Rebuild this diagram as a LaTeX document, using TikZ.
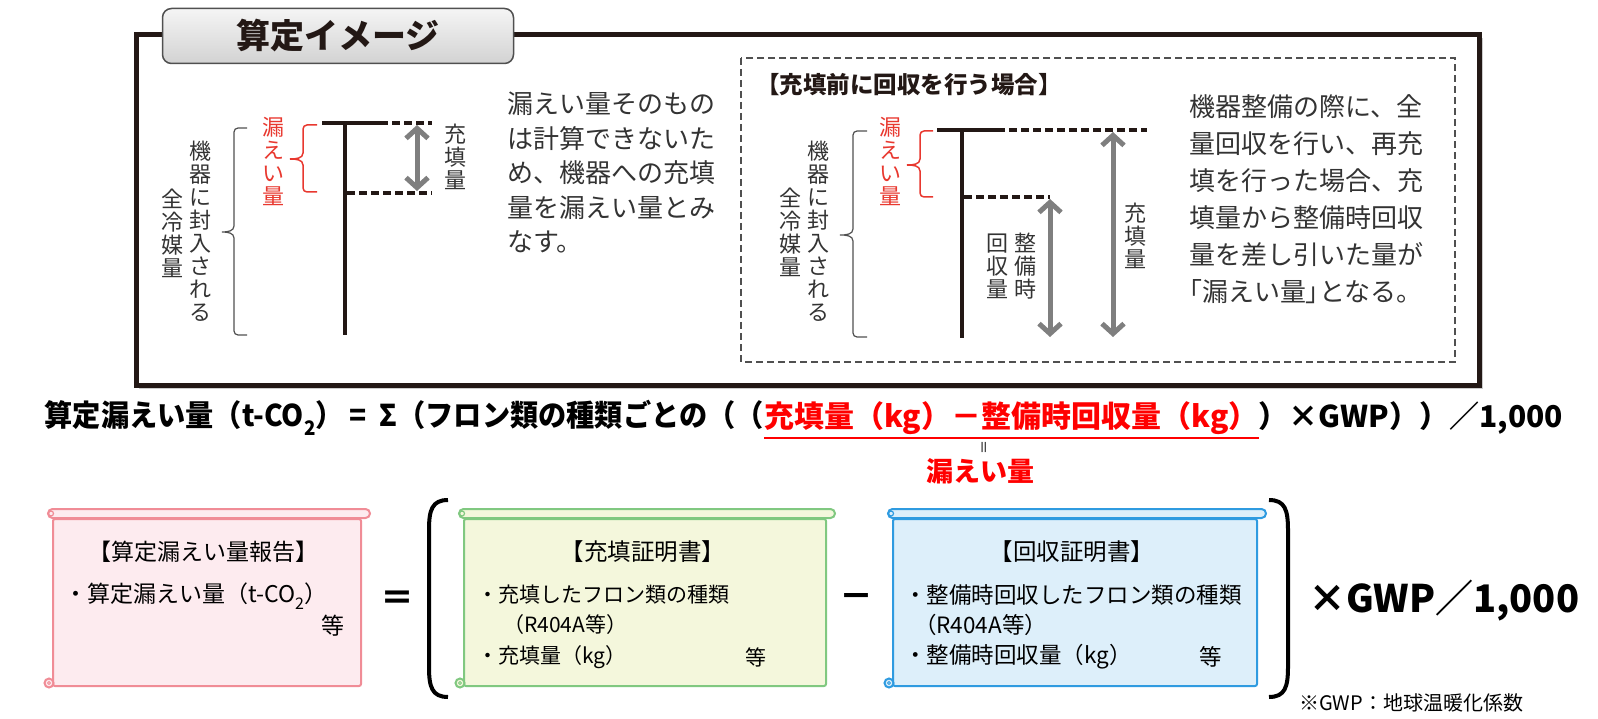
\documentclass[tikz,border=0pt]{standalone}
\usepackage{fontspec}
\setmainfont{Noto Sans CJK JP}
\usetikzlibrary{arrows.meta,positioning,calc}

\definecolor{ink}{HTML}{231815}
\definecolor{txtgray}{HTML}{333333}
\definecolor{arrgray}{HTML}{7F7F7F}
\definecolor{framegray}{HTML}{505050}
\definecolor{leakred}{HTML}{E8382F}
\definecolor{formred}{HTML}{FF0000}
\definecolor{pinkfill}{HTML}{FDEBEF}
\definecolor{pinkline}{HTML}{F08C96}
\definecolor{greenfill}{HTML}{F4F7DC}
\definecolor{greenline}{HTML}{80C880}
\definecolor{bluefill}{HTML}{DDEFFA}
\definecolor{blueline}{HTML}{2F9BE0}

\newcommand{\fs}[2]{\fontsize{#1}{#2}\selectfont}
\newcommand{\lowtwo}[1]{\raisebox{-0.3em}{\fs{#1}{#1}2}}
\newcommand{\halfkak}[1]{{\addfontfeature{RawFeature=+palt}#1}}
% bracket with a small tip: style, x end, x line, x tip, y top, y tip, y bottom
\newcommand{\sidebrace}[7]{%
\draw[#1] (#2,#5) -- (#3+4,#5) to[out=180,in=90] (#3,#5+4) -- (#3,#6-6) to[out=-90,in=0] (#4,#6)
  to[out=0,in=90] (#3,#6+6) -- (#3,#7-4) to[out=-90,in=180] (#3+4,#7) -- (#2,#7);}
% scroll ends of a certificate
\newcommand{\scrollends}[2]{%
\draw[#2line, fill=#2fill, line width=2pt, rounded corners=4.5pt] ($(#1.north west)+(-4,-9)$) rectangle ($(#1.north east)+(8,0)$);
\draw[#2line, line width=1.2pt] ($(#1.north west)+(-1,-4.5)$) circle (2.5pt);
\draw[#2line, fill=#2fill, line width=2pt] ($(#1.south west)+(-3,-4)$) circle (4.5pt);
\draw[#2line, line width=1pt] ($(#1.south west)+(-3,-4)$) circle (1.5pt);
}

\tikzset{
  frame/.style={ink, line width=5pt},
  tab/.style={draw=framegray, line width=1.5pt, rounded corners=9pt, top color=gray!8, bottom color=gray!35,
    minimum width=351pt, minimum height=55pt, inner sep=0pt, text=ink, font=\bfseries\fs{34}{34}},
  level/.style={ink, line width=3.5pt},
  dashlevel/.style={ink, line width=3.5pt, dash pattern=on 8pt off 4pt},
  amount/.style={arrgray, line width=5pt,
    {Straight Barb[length=10pt,width=22pt]}-{Straight Barb[length=10pt,width=22pt]}},
  tate/.style={align=center, inner sep=0pt, text=txtgray, font=\fs{22}{23}},
  para/.style={align=left, inner sep=0pt, anchor=north west, text=txtgray, font=\fs{26}{34.5}},
  leakbrace/.style={leakred, line width=1.5pt},
  allbrace/.style={framegray, line width=1.2pt},
  formula/.style={inner sep=0pt, font=\bfseries\fs{30}{30}},
  scrollbody/.style={draw=#1line, fill=#1fill, line width=2pt, rounded corners=2pt, inner sep=0pt, anchor=north west},
  boxtext/.style={inner sep=0pt, font=\fs{21}{21}},
  paren/.style={black, line width=4pt},
}

\begin{document}
\begin{tikzpicture}[x=1pt,y=-1pt]
\useasboundingbox (0,0) rectangle (1598,719);
% frame with title tab
\draw[gray!40, line width=2pt] (139,388) -- (1482,388) -- (1482,38);
\draw[frame] (136,35) rectangle (1479,385);
\node[tab] (tab) at (338,36) {算定イメージ};

% left picture:
\draw[level] (322,123) -- (380,123);
\draw[dashlevel] (380,123) -- (432,123);
\draw[level] (345,123) -- (345,335);
\draw[dashlevel] (347,193) -- (432,193);
\draw[amount] (417,125) -- (417,191);
\node[tate] (lfill) at (455,157) {充\\填\\量};
\sidebrace{leakbrace}{317}{303}{290}{125}{159}{192}
\node[tate, text=leakred] (lleak) at (273,161) {漏\\え\\い\\量};
\sidebrace{allbrace}{247}{234}{222}{128}{232}{335}
\node[tate] (lcharge) at (200,231) {機\\器\\に\\封\\入\\さ\\れ\\る};
\node[tate] (ltotal) at (172,233) {全\\冷\\媒\\量};
\node[para] (lnote) at (507,92) {漏えい量そのもの\\は計算できないた\\め、機器への充填\\量を漏えい量とみ\\なす。};

% right picture:
\draw[framegray, line width=1.3pt, dash pattern=on 7pt off 4pt] (741,58) rectangle (1455,362);
\node[inner sep=0pt, anchor=west, text=ink, font=\bfseries\fs{23.5}{23.5}] (rtitle) at (756,85) {【充填前に回収を行う場合】};
\draw[level] (937,130) -- (997,130);
\draw[dashlevel] (997,130) -- (1147,130);
\draw[level] (962,130) -- (962,338);
\draw[dashlevel] (964,197) -- (1050,197);
\draw[amount] (1050,199) -- (1050,337);
\draw[amount] (1113,132) -- (1113,337);
\node[tate] (rfill) at (1135,236) {充\\填\\量};
\node[tate] (rrec1) at (1025,266) {整\\備\\時};
\node[tate] (rrec2) at (997,266) {回\\収\\量};
\sidebrace{leakbrace}{933}{920}{907}{131}{165}{197}
\node[tate, text=leakred] (rleak) at (890,161) {漏\\え\\い\\量};
\sidebrace{allbrace}{867}{853}{840}{131}{235}{337}
\node[tate] (rcharge) at (818,231) {機\\器\\に\\封\\入\\さ\\れ\\る};
\node[tate] (rtotal) at (790,232) {全\\冷\\媒\\量};
\node[para, font=\fs{26}{37}] (rnote) at (1189,94) {機器整備の際に、全\\量回収を行い、再充\\填を行った場合、充\\填量から整備時回収\\量を差し引いた量が\\\halfkak{「}漏えい量\halfkak{」}となる。};

% formula
\node[formula, anchor=west, text=formred] (fred) at (764,418) {充填量（kg）－整備時回収量（kg）};
\node[formula, anchor=east] (fleft) at (fred.west) {\scalebox{0.94}[1]{算定漏えい量（t-CO\lowtwo{20}）\hspace{6pt}=\hspace{14pt}Σ（フロン類の種類ごとの（（}};
\node[formula, anchor=west] (fright) at (fred.east) {）×GWP））／1,000};
\draw[formred, line width=2pt] ([yshift=-11pt]fred.base west) -- ([yshift=-11pt]fred.base east);
\node[inner sep=0pt, rotate=90, font=\fs{14}{14}] (feq) at (986,447) {＝};
\node[inner sep=0pt, text=formred, font=\bfseries\fs{27}{27}] (fleak) at (980,471) {漏えい量};

% certificates
\node[scrollbody=pink, minimum width=308pt, minimum height=167pt] (report) at (52,518) {};
\scrollends{report}{pink}
\node[boxtext, font=\fs{23}{23}] (reporttitle) at (203,552) {【算定漏えい量報告】};
\node[boxtext, anchor=west, font=\fs{23}{23}] (reportitem) at (64,596) {・算定漏えい量（t-CO\lowtwo{16}）};
\node[boxtext, font=\fs{23}{23}] (reportetc) at (333,626) {等};

\node[inner sep=0pt, font=\bfseries\fs{34}{34}] (eqsign) at (397,601) {＝};
\draw[paren] (448,500) .. controls (432,500) and (429,510) .. (429,530) -- (429,667) .. controls (429,687) and (432,697) .. (448,697);

\node[scrollbody=green, minimum width=362pt, minimum height=167pt] (fillcert) at (463,518) {};
\scrollends{fillcert}{green}
\node[boxtext, font=\fs{23.5}{23.5}] (filltitle) at (643,552) {【充填証明書】};
\node[boxtext, anchor=west] (fillitem1) at (477,595) {・充填したフロン類の種類};
\node[boxtext, anchor=west] (fillitem2) at (503,625) {（R404A等）};
\node[boxtext, anchor=west] (fillitem3) at (477,657) {・充填量（kg）};
\node[boxtext] (filletc) at (756,657) {等};

\node[inner sep=0pt, font=\bfseries\fs{34}{34}] (minussign) at (856,601) {－};

\node[scrollbody=blue, minimum width=364pt, minimum height=167pt] (reccert) at (892,518) {};
\scrollends{reccert}{blue}
\node[boxtext, font=\fs{23.5}{23.5}] (rectitle) at (1072,552) {【回収証明書】};
\node[boxtext, anchor=west, font=\fs{22.5}{22.5}] (recitem1) at (904,595) {・整備時回収したフロン類の種類};
\node[boxtext, anchor=west, font=\fs{22.5}{22.5}] (recitem2) at (914,625) {（R404A等）};
\node[boxtext, anchor=west, font=\fs{22.5}{22.5}] (recitem3) at (904,657) {・整備時回収量（kg）};
\node[boxtext, font=\fs{22.5}{22.5}] (recetc) at (1211,657) {等};

\draw[paren] (1269,500) .. controls (1285,500) and (1288,510) .. (1288,530) -- (1288,667) .. controls (1288,687) and (1285,697) .. (1269,697);
\node[inner sep=0pt, anchor=west, font=\bfseries\fs{38}{38}] (gwp) at (1308,601) {×GWP／1,000};
\node[inner sep=0pt, anchor=west, font=\fs{20}{20}] (gwpnote) at (1299,703) {※GWP：地球温暖化係数};
\end{tikzpicture}
\end{document}
